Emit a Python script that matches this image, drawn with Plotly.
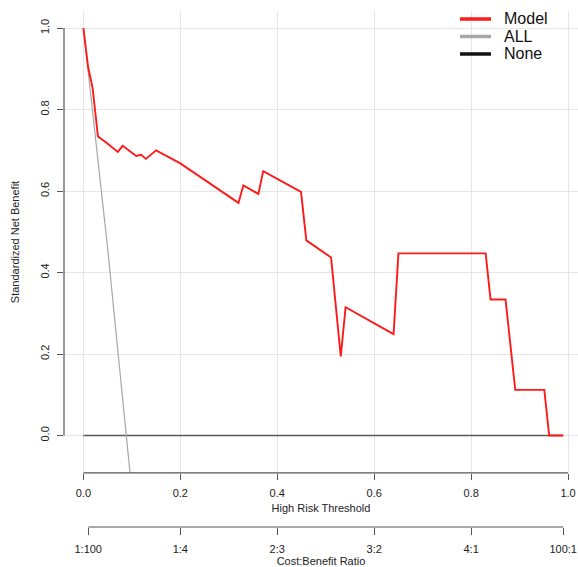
import plotly.graph_objects as go

# ---- data ----
model_threshold = [0.0, 0.0097, 0.019, 0.030, 0.047, 0.066, 0.071, 0.081, 0.109, 0.119, 0.129,
                   0.150, 0.200, 0.320, 0.330, 0.361, 0.371, 0.449, 0.460, 0.511, 0.531,
                   0.541, 0.640, 0.650, 0.830, 0.840, 0.871, 0.891, 0.951, 0.961, 0.990]
model_nb = [1.000, 0.905, 0.853, 0.734, 0.719, 0.699, 0.696, 0.711, 0.686, 0.689, 0.679,
            0.700, 0.668, 0.571, 0.614, 0.593, 0.649, 0.598, 0.479, 0.437, 0.194,
            0.315, 0.249, 0.447, 0.447, 0.334, 0.334, 0.112, 0.112, 0.000, 0.000]

all_threshold = [0.0, 0.05, 0.10]
all_nb = [1.0, 0.46, -0.137]

none_threshold = [0.0, 0.99]
none_nb = [0.0, 0.0]

x_ticks = [0.0, 0.2, 0.4, 0.6, 0.8, 1.0]
y_ticks = [0.0, 0.2, 0.4, 0.6, 0.8, 1.0]
cb_ticks = [0.01, 0.2, 0.4, 0.6, 0.8, 0.99]
cb_labels = ["1:100", "1:4", "2:3", "3:2", "4:1", "100:1"]

series_names = ["Model", "ALL", "None"]
series_colors = ["#ff1a1a", "#a8a8a8", "#111111"]

FONT = "Liberation Sans, Arial, sans-serif"
AX = "#555555"
GRID = "#e6e6e6"

fig = go.Figure()

fig.add_trace(go.Scatter(x=none_threshold, y=none_nb, mode="lines", name=series_names[2],
                         line=dict(color="#5a5a5a", width=1.5), showlegend=False, hoverinfo="skip"))
fig.add_trace(go.Scatter(x=all_threshold, y=all_nb, mode="lines", name=series_names[1],
                         line=dict(color=series_colors[1], width=1.2), showlegend=False, hoverinfo="skip"))
fig.add_trace(go.Scatter(x=model_threshold, y=model_nb, mode="lines", name=series_names[0],
                         line=dict(color=series_colors[0], width=1.9), showlegend=False, hoverinfo="skip"))

# carrier for the cost:benefit axis
fig.add_trace(go.Scatter(x=[], y=[], xaxis="x2", yaxis="y", showlegend=False, hoverinfo="skip"))

XR = [-0.04, 1.0205]
YR = [-0.092, 1.042]

shapes = [
    # white legend box covering the grid
    dict(type="rect", xref="paper", yref="paper", x0=0.65, x1=1.0, y0=0.872, y1=1.03,
         fillcolor="white", line=dict(width=0), layer="between"),
    # R-style axis lines spanning the tick range only
    dict(type="line", xref="x", yref="y domain", x0=0, x1=1, y0=0, y1=0,
         line=dict(color=AX, width=1.2)),
    dict(type="line", xref="x domain", yref="y", x0=0, x1=0, y0=0, y1=1,
         line=dict(color=AX, width=1.2)),
    dict(type="line", xref="x", yref="paper", x0=0.01, x1=0.99, y0=0, y1=0,
         line=dict(color=AX, width=1.2)),
]
annotations = []

# manual R-style legend
leg_rows = [0.9845, 0.9506, 0.9167]
for name, col, yy in zip(series_names, series_colors, leg_rows):
    shapes.append(dict(type="line", xref="paper", yref="paper", x0=0.7704, x1=0.8307,
                       y0=yy, y1=yy, line=dict(color=col, width=3.5)))
    annotations.append(dict(text=name, xref="paper", yref="paper", x=0.852, y=yy,
                            xanchor="left", yanchor="middle", showarrow=False,
                            font=dict(size=16, family=FONT, color="#111111")))

fig.update_layout(
    width=578, height=567,
    margin=dict(l=64, r=0, t=11, b=40),
    paper_bgcolor="white", plot_bgcolor="white",
    font=dict(family=FONT, size=11, color="#222222"),
    showlegend=False,
    hovermode=False,
    xaxis=dict(range=XR, anchor="y", tickvals=x_ticks, tickformat=".1f",
               showgrid=True, gridcolor=GRID, gridwidth=1, zeroline=False, showline=False,
               ticks="outside", ticklen=6, tickcolor=AX, tickwidth=1, ticklabelstandoff=4,
               ticklabeloverflow="allow",
               title=dict(text="High Risk Threshold", standoff=6, font=dict(size=11)),
               automargin=False),
    xaxis2=dict(range=XR, overlaying="x", anchor="free", position=0, side="bottom",
                tickvals=cb_ticks, ticktext=cb_labels, showgrid=False, zeroline=False, showline=False,
                ticks="outside", ticklen=7, tickcolor=AX, tickwidth=1, ticklabelstandoff=5,
                ticklabeloverflow="allow",
                title=dict(text="Cost:Benefit Ratio", standoff=4, font=dict(size=11)),
                automargin=False),
    yaxis=dict(range=YR, domain=[0.1047, 1], tickvals=y_ticks, tickformat=".1f", tickangle=-90,
               showgrid=True, gridcolor=GRID, gridwidth=1, zeroline=False, showline=False,
               ticks="outside", ticklen=6, tickcolor=AX, tickwidth=1, ticklabelstandoff=4,
               title=dict(text="Standardized Net Benefit", standoff=16, font=dict(size=11)),
               automargin=False),
    shapes=shapes,
    annotations=annotations,
)

fig.write_html("out.html", config={"displayModeBar": False},
               post_script="document.body.style.margin='0px';")
